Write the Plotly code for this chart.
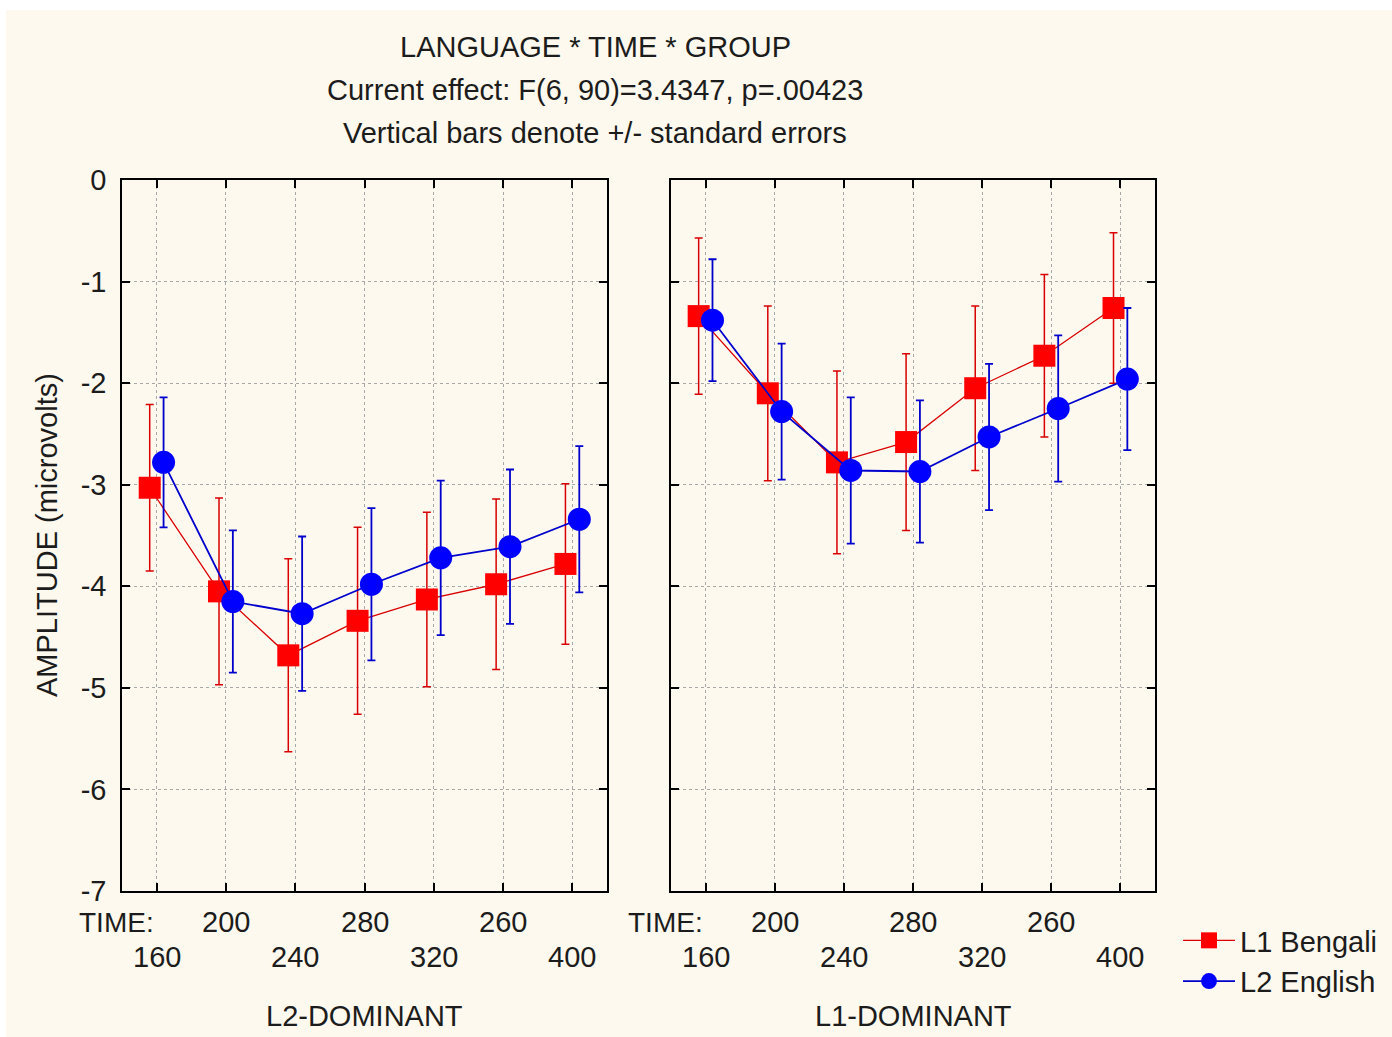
import plotly.graph_objects as go

# Time points (labels as printed on the axis)
time_labels = ["160", "200", "240", "280", "320", "260", "400"]
groups = ["L2-DOMINANT", "L1-DOMINANT"]
series_names = ["L1 Bengali", "L2 English"]

# Mean amplitudes (microvolts) and standard errors, L2-dominant group
l2dom_bengali_mean = [-3.03, -4.05, -4.68, -4.34, -4.13, -3.98, -3.78]
l2dom_bengali_se = [0.82, 0.92, 0.95, 0.92, 0.86, 0.84, 0.79]
l2dom_english_mean = [-2.78, -4.15, -4.27, -3.98, -3.72, -3.61, -3.34]
l2dom_english_se = [0.64, 0.70, 0.76, 0.75, 0.76, 0.76, 0.72]

# L1-dominant group
l1dom_bengali_mean = [-1.34, -2.10, -2.78, -2.58, -2.05, -1.73, -1.26]
l1dom_bengali_se = [0.77, 0.86, 0.90, 0.87, 0.81, 0.80, 0.74]
l1dom_english_mean = [-1.38, -2.28, -2.86, -2.87, -2.53, -2.25, -1.96]
l1dom_english_se = [0.60, 0.67, 0.72, 0.70, 0.72, 0.72, 0.70]

title_lines = [
    "LANGUAGE * TIME * GROUP",
    "Current effect: F(6, 90)=3.4347, p=.00423",
    "Vertical bars denote +/- standard errors",
]

W, H = 1392, 1037
FONT = "Liberation Sans, Arial, sans-serif"
FS = 29
TXT = "#1c1c1c"
RED, RED_LINE = "#ff0000", "#d80000"
BLUE, BLUE_LINE = "#0000ff", "#0000cc"
CREAM = "#fef9ee"


def px_x(p):
    return p / W


def px_y(p):
    return 1 - p / H


idx = list(range(len(time_labels)))
n_cat = len(time_labels)
shift = 0.1

fig = go.Figure()

panels = [
    ("x", "y", l2dom_bengali_mean, l2dom_bengali_se, l2dom_english_mean, l2dom_english_se, True),
    ("x2", "y2", l1dom_bengali_mean, l1dom_bengali_se, l1dom_english_mean, l1dom_english_se, False),
]

for xa, ya, bm, bse, em, ese, show in panels:
    fig.add_trace(go.Scatter(
        x=[i - shift for i in idx], y=bm, xaxis=xa, yaxis=ya,
        mode="lines+markers", name=series_names[0], showlegend=show,
        line=dict(color=RED_LINE, width=1.3),
        marker=dict(symbol="square", size=22, color=RED, line=dict(width=0)),
        error_y=dict(type="data", array=bse, visible=True, color=RED_LINE,
                     thickness=1.5, width=4),
    ))
    fig.add_trace(go.Scatter(
        x=[i + shift for i in idx], y=em, xaxis=xa, yaxis=ya,
        mode="lines+markers", name=series_names[1], showlegend=show,
        line=dict(color=BLUE_LINE, width=1.8),
        marker=dict(symbol="circle", size=23, color=BLUE, line=dict(width=0)),
        error_y=dict(type="data", array=ese, visible=True, color=BLUE_LINE,
                     thickness=1.8, width=4),
    ))

ydom = [px_y(891), px_y(180)]
xcommon = dict(
    range=[-0.5, n_cat - 0.5], tickvals=idx, showticklabels=False,
    ticks="inside", ticklen=8, tickwidth=1.5, tickcolor="black",
    showline=True, linecolor="black", linewidth=1.5, mirror="ticks",
    showgrid=True, gridcolor="#a8a8a8", griddash="dot", gridwidth=1,
    zeroline=False, fixedrange=True,
)
ycommon = dict(
    range=[-7, 0], tickvals=[0, -1, -2, -3, -4, -5, -6, -7],
    ticktext=["0", "-1", "-2", "-3", "-4", "-5", "-6", "-7"],
    ticks="inside", ticklen=8, tickwidth=1.5, tickcolor="black",
    showline=True, linecolor="black", linewidth=1.5, mirror="ticks",
    showgrid=True, gridcolor="#a8a8a8", griddash="dot", gridwidth=1,
    zeroline=False, domain=ydom, fixedrange=True,
    tickfont=dict(family=FONT, size=FS, color=TXT),
)

annotations = []
for k, line in enumerate(title_lines):
    annotations.append(dict(
        text=line, xref="paper", yref="paper", x=px_x(595), y=px_y(47 + 43 * k),
        xanchor="center", yanchor="middle", showarrow=False,
        font=dict(family=FONT, size=FS, color=TXT),
    ))

annotations.append(dict(
    text="AMPLITUDE (microvolts)", xref="paper", yref="paper",
    x=px_x(47), y=px_y(535), textangle=-90, xanchor="center", yanchor="middle",
    showarrow=False, font=dict(family=FONT, size=FS, color=TXT),
))

for xa, grp in zip(["x", "x2"], groups):
    # "TIME:" sits just left of the first category, outside the axis range
    annotations.append(dict(
        text="TIME:", xref=xa + " domain", yref="paper", x=(-0.58 + 0.5) / n_cat,
        y=px_y(922), xanchor="center", yanchor="middle", showarrow=False,
        font=dict(family=FONT, size=FS - 1, color=TXT),
    ))
    for i, lab in enumerate(time_labels):
        row_y = 957 if i % 2 == 0 else 922
        annotations.append(dict(
            text=lab, xref=xa, yref="paper", x=i, y=px_y(row_y),
            xanchor="center", yanchor="middle", showarrow=False,
            font=dict(family=FONT, size=FS, color=TXT),
        ))
    annotations.append(dict(
        text=grp, xref=xa + " domain", yref="paper", x=0.5, y=px_y(1016),
        xanchor="center", yanchor="middle", showarrow=False,
        font=dict(family=FONT, size=FS, color=TXT),
    ))

fig.update_layout(
    width=W, height=H, autosize=False,
    margin=dict(l=0, r=0, t=0, b=0, autoexpand=False),
    paper_bgcolor="white", plot_bgcolor="white",
    font=dict(family=FONT, size=FS, color=TXT),
    xaxis=dict(domain=[px_x(122), px_x(607)], anchor="y", **xcommon),
    xaxis2=dict(domain=[px_x(671), px_x(1155)], anchor="y2", **xcommon),
    yaxis=dict(anchor="x", ticklabelstandoff=8, **ycommon),
    yaxis2=dict(anchor="x2", matches="y", **{**ycommon, "tickfont": None}),
    showlegend=True,
    legend=dict(
        x=px_x(1178), y=px_y(961), xanchor="left", yanchor="middle",
        bgcolor="rgba(0,0,0,0)", borderwidth=0,
        font=dict(family=FONT, size=FS, color=TXT),
        tracegroupgap=0, itemwidth=52,
    ),
    annotations=annotations,
    shapes=[dict(
        type="rect", xref="paper", yref="paper", x0=px_x(6), x1=1,
        y0=0, y1=px_y(10), fillcolor=CREAM, line=dict(width=0), layer="below",
    )],
)
fig.update_yaxes(showticklabels=False, selector=dict(anchor="x2"))

fig.write_html("out.html")
